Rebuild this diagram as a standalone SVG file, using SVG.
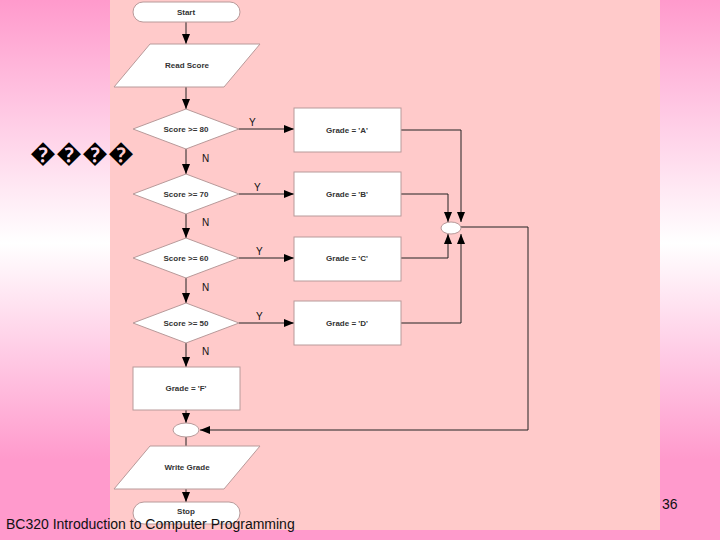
<svg xmlns="http://www.w3.org/2000/svg" width="720" height="540" viewBox="0 0 720 540">
<defs>
<linearGradient id="bg" x1="0" y1="0" x2="0" y2="1">
<stop offset="0" stop-color="#FF9ACC"/><stop offset="0.45" stop-color="#FFFFFF"/><stop offset="0.85" stop-color="#FF9ACC"/><stop offset="1" stop-color="#FF9ACC"/>
</linearGradient>
<marker id="ar" markerWidth="10" markerHeight="8" refX="10" refY="4" orient="auto" markerUnits="userSpaceOnUse"><path d="M0,0 L10,4 L0,8 Z" fill="#000"/></marker>
<style>
.n{fill:#fff;stroke:#b89a9a;stroke-width:1}
.t{font-family:"Liberation Sans",Arial,sans-serif;font-size:8px;font-weight:bold;text-anchor:middle;fill:#333}
.l{font-family:"Liberation Sans",Arial,sans-serif;font-size:10px;fill:#111}
.c{fill:none;stroke:#222;stroke-width:1}
</style>
</defs>
<rect width="720" height="540" fill="url(#bg)"/>
<rect x="110" y="0" width="550" height="530" fill="#FFCACA"/>
<g id="connectors" class="c">
<path d="M186,22 V44" marker-end="url(#ar)"/>
<path d="M186,87 V109" marker-end="url(#ar)"/>
<path d="M186,149 V174" marker-end="url(#ar)"/>
<path d="M186,214 V238" marker-end="url(#ar)"/>
<path d="M186,278 V303" marker-end="url(#ar)"/>
<path d="M186,343 V367" marker-end="url(#ar)"/>
<path d="M239,129 H294" marker-end="url(#ar)"/>
<path d="M239,194 H294" marker-end="url(#ar)"/>
<path d="M239,258 H294" marker-end="url(#ar)"/>
<path d="M239,323 H294" marker-end="url(#ar)"/>
<path d="M401,130 H461 V222" marker-end="url(#ar)"/>
<path d="M401,194 H448 V222" marker-end="url(#ar)"/>
<path d="M401,258 H448 V234" marker-end="url(#ar)"/>
<path d="M401,323 H461 V234" marker-end="url(#ar)"/>
<path d="M461,227 H528 V430 H200" marker-end="url(#ar)"/>
<path d="M186,410 V423" marker-end="url(#ar)"/>
<path d="M186,437 V446"/>
<path d="M186,489 V502" marker-end="url(#ar)"/>
</g>
<g id="labels">
<text class="l" x="249" y="126">Y</text><text class="l" x="254" y="191">Y</text><text class="l" x="256" y="255">Y</text><text class="l" x="256" y="320">Y</text>
<text class="l" x="202" y="162">N</text><text class="l" x="202" y="226">N</text><text class="l" x="202" y="291">N</text><text class="l" x="202" y="355">N</text>
</g>
<g id="start"><rect class="n" x="133" y="2" width="107" height="20" rx="10"/><text class="t" x="186" y="15">Start</text></g>
<g id="read"><path class="n" d="M150,44 H260 L224,87 H114 Z"/><text class="t" x="187" y="68">Read Score</text></g>
<g id="d80"><path class="n" d="M186,109 L239,129 L186,149 L133,129 Z"/><text class="t" x="186" y="132">Score &gt;= 80</text></g>
<g id="d70"><path class="n" d="M186,174 L239,194 L186,214 L133,194 Z"/><text class="t" x="186" y="197">Score &gt;= 70</text></g>
<g id="d60"><path class="n" d="M186,238 L239,258 L186,278 L133,258 Z"/><text class="t" x="186" y="261">Score &gt;= 60</text></g>
<g id="d50"><path class="n" d="M186,303 L239,323 L186,343 L133,323 Z"/><text class="t" x="186" y="326">Score &gt;= 50</text></g>
<g id="ga"><rect class="n" x="294" y="108" width="107" height="44"/><text class="t" x="347" y="133">Grade = 'A'</text></g>
<g id="gb"><rect class="n" x="294" y="172" width="107" height="44"/><text class="t" x="347" y="197">Grade = 'B'</text></g>
<g id="gc"><rect class="n" x="294" y="237" width="107" height="44"/><text class="t" x="347" y="261">Grade = 'C'</text></g>
<g id="gd"><rect class="n" x="294" y="301" width="107" height="44"/><text class="t" x="347" y="326">Grade = 'D'</text></g>
<g id="gf"><rect class="n" x="133" y="367" width="107" height="43"/><text class="t" x="186" y="391">Grade = 'F'</text></g>
<g id="j1"><ellipse class="n" cx="451" cy="228" rx="10" ry="6"/></g>
<g id="j2"><ellipse class="n" cx="186" cy="430" rx="13" ry="7"/></g>
<g id="write"><path class="n" d="M150,446 H260 L224,489 H114 Z"/><text class="t" x="187" y="470">Write Grade</text></g>
<g id="stop"><rect class="n" x="133" y="502" width="107" height="22" rx="11"/><text class="t" x="186" y="514">Stop</text></g>
<text x="30" y="162" style="font-family:'Liberation Sans',sans-serif;font-size:26px" fill="#000">����</text>
<text x="6" y="529" style="font-family:'Liberation Sans Narrow','Liberation Sans',sans-serif;font-size:14px" fill="#111">BC320 Introduction to Computer Programming</text>
<text x="662" y="509" style="font-family:'Liberation Sans Narrow','Liberation Sans',sans-serif;font-size:14px" fill="#111">36</text>
</svg>
